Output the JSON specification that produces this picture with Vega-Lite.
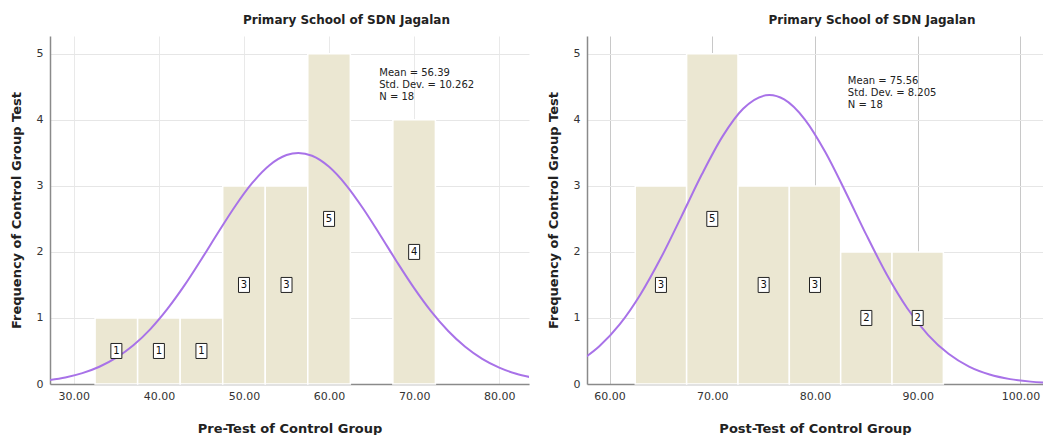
{
  "$schema": "https://vega.github.io/schema/vega-lite/v6.json",
  "padding": {"left": 10, "top": 14, "right": 0, "bottom": 0},
  "spacing": 18,
  "config": {
    "view": {"stroke": null},
    "font": "DejaVu Sans",
    "axis": {
      "ticks": false,
      "domainColor": "#8a8a8a",
      "domainWidth": 1.5,
      "gridColor": "#e6e6e6",
      "labelColor": "#333333",
      "labelFontSize": 11,
      "titleFontSize": 13,
      "titleFontWeight": "bold",
      "titleColor": "#222222",
      "labelFont": "DejaVu Sans",
      "titleFont": "DejaVu Sans"
    },
    "axisX": {"labelPadding": 6, "titlePadding": 21},
    "axisY": {"labelPadding": 7, "titlePadding": 13},
    "title": {"fontSize": 12, "fontWeight": "bold", "color": "#222222", "offset": 9}
  },
  "datasets": {
    "preBars": [
      {"start": 32.5, "end": 37.5, "mid": 35, "count": 1},
      {"start": 37.5, "end": 42.5, "mid": 40, "count": 1},
      {"start": 42.5, "end": 47.5, "mid": 45, "count": 1},
      {"start": 47.5, "end": 52.5, "mid": 50, "count": 3},
      {"start": 52.5, "end": 57.5, "mid": 55, "count": 3},
      {"start": 57.5, "end": 62.5, "mid": 60, "count": 5},
      {"start": 67.5, "end": 72.5, "mid": 70, "count": 4}
    ],
    "postBars": [
      {"start": 62.5, "end": 67.5, "mid": 65, "count": 3},
      {"start": 67.5, "end": 72.5, "mid": 70, "count": 5},
      {"start": 72.5, "end": 77.5, "mid": 75, "count": 3},
      {"start": 77.5, "end": 82.5, "mid": 80, "count": 3},
      {"start": 82.5, "end": 87.5, "mid": 85, "count": 2},
      {"start": 87.5, "end": 92.5, "mid": 90, "count": 2}
    ],
    "preCurve": [
      {"x": 27, "y": 0.058}, {"x": 29, "y": 0.099}, {"x": 31, "y": 0.164}, {"x": 33, "y": 0.261},
      {"x": 35, "y": 0.399}, {"x": 37, "y": 0.587}, {"x": 39, "y": 0.832}, {"x": 41, "y": 1.137},
      {"x": 43, "y": 1.493}, {"x": 45, "y": 1.890}, {"x": 47, "y": 2.302}, {"x": 49, "y": 2.700},
      {"x": 51, "y": 3.048}, {"x": 53, "y": 3.313}, {"x": 55, "y": 3.467}, {"x": 56.39, "y": 3.499},
      {"x": 58, "y": 3.456}, {"x": 60, "y": 3.289}, {"x": 62, "y": 3.013}, {"x": 64, "y": 2.658},
      {"x": 66, "y": 2.257}, {"x": 68, "y": 1.845}, {"x": 70, "y": 1.452}, {"x": 72, "y": 1.100},
      {"x": 74, "y": 0.803}, {"x": 76, "y": 0.564}, {"x": 78, "y": 0.381}, {"x": 80, "y": 0.248},
      {"x": 82, "y": 0.155}, {"x": 84, "y": 0.094}
    ],
    "postCurve": [
      {"x": 57.5, "y": 0.388}, {"x": 59, "y": 0.571}, {"x": 61, "y": 0.906}, {"x": 63, "y": 1.356},
      {"x": 65, "y": 1.911}, {"x": 67, "y": 2.539}, {"x": 69, "y": 3.179}, {"x": 71, "y": 3.750},
      {"x": 73, "y": 4.168}, {"x": 75.56, "y": 4.376}, {"x": 77, "y": 4.309}, {"x": 79, "y": 4.008},
      {"x": 81, "y": 3.513}, {"x": 83, "y": 2.901}, {"x": 85, "y": 2.258}, {"x": 87, "y": 1.655},
      {"x": 89, "y": 1.144}, {"x": 91, "y": 0.745}, {"x": 93, "y": 0.457}, {"x": 95, "y": 0.264},
      {"x": 97, "y": 0.144}, {"x": 99, "y": 0.074}, {"x": 101, "y": 0.036}, {"x": 102.5, "y": 0.020}
    ],
    "preStats": [{"x": 65.9, "y": 4.78, "label": "Mean = 56.39\nStd. Dev. = 10.262\nN = 18"}],
    "postStats": [{"x": 83.2, "y": 4.66, "label": "Mean = 75.56\nStd. Dev. = 8.205\nN = 18"}]
  },
  "hconcat": [
    {
      "width": 479,
      "height": 348,
      "title": {"text": "Primary School of SDN Jagalan", "dx": 57},
      "layer": [
        {
          "data": {"name": "preBars"},
          "mark": {"type": "rect", "color": "#ebe7d2", "stroke": "white", "strokeWidth": 1.5},
          "encoding": {
            "x": {"field": "start", "type": "quantitative",
                  "scale": {"domain": [27.2, 83.5], "nice": false, "zero": false},
                  "axis": {"values": [30, 40, 50, 60, 70, 80], "format": ".2f", "title": "Pre-Test of Control Group", "gridColor": "#e9e9e9"}},
            "x2": {"field": "end"},
            "y": {"field": "count", "type": "quantitative",
                  "scale": {"domain": [0, 5.27], "nice": false},
                  "axis": {"values": [0, 1, 2, 3, 4, 5], "format": "d", "title": "Frequency of Control Group Test"}},
            "y2": {"datum": 0}
          }
        },
        {
          "data": {"name": "preCurve"},
          "mark": {"type": "line", "color": "#a872e8", "strokeWidth": 2, "interpolate": "monotone", "clip": true},
          "encoding": {
            "x": {"field": "x", "type": "quantitative"},
            "y": {"field": "y", "type": "quantitative"}
          }
        },
        {
          "data": {"name": "preBars"},
          "transform": [{"calculate": "datum.count / 2", "as": "half"}],
          "mark": {"type": "point", "shape": "M-0.733,-1H0.733V1H-0.733Z", "size": 225, "filled": true, "fill": "white", "stroke": "#222222", "strokeWidth": 1, "opacity": 1},
          "encoding": {
            "x": {"field": "mid", "type": "quantitative"},
            "y": {"field": "half", "type": "quantitative"}
          }
        },
        {
          "data": {"name": "preBars"},
          "transform": [{"calculate": "datum.count / 2", "as": "half"}],
          "mark": {"type": "text", "fontSize": 10, "color": "#111111", "align": "center", "baseline": "middle"},
          "encoding": {
            "x": {"field": "mid", "type": "quantitative"},
            "y": {"field": "half", "type": "quantitative"},
            "text": {"field": "count"}
          }
        },
        {
          "data": {"name": "preStats"},
          "mark": {"type": "text", "fontSize": 10, "color": "#222222", "align": "left", "baseline": "top", "lineBreak": "\n", "lineHeight": 12},
          "encoding": {
            "x": {"field": "x", "type": "quantitative"},
            "y": {"field": "y", "type": "quantitative"},
            "text": {"field": "label"}
          }
        }
      ]
    },
    {
      "width": 456,
      "height": 348,
      "title": {"text": "Primary School of SDN Jagalan", "dx": 57},
      "layer": [
        {
          "data": {"name": "postBars"},
          "mark": {"type": "rect", "color": "#ebe7d2", "stroke": "white", "strokeWidth": 1.5},
          "encoding": {
            "x": {"field": "start", "type": "quantitative",
                  "scale": {"domain": [57.8, 102.2], "nice": false, "zero": false},
                  "axis": {"values": [60, 70, 80, 90, 100], "format": ".2f", "title": "Post-Test of Control Group", "gridColor": "#c8c8c8"}},
            "x2": {"field": "end"},
            "y": {"field": "count", "type": "quantitative",
                  "scale": {"domain": [0, 5.27], "nice": false},
                  "axis": {"values": [0, 1, 2, 3, 4, 5], "format": "d", "title": "Frequency of Control Group Test"}},
            "y2": {"datum": 0}
          }
        },
        {
          "data": {"name": "postCurve"},
          "mark": {"type": "line", "color": "#a872e8", "strokeWidth": 2, "interpolate": "monotone", "clip": true},
          "encoding": {
            "x": {"field": "x", "type": "quantitative"},
            "y": {"field": "y", "type": "quantitative"}
          }
        },
        {
          "data": {"name": "postBars"},
          "transform": [{"calculate": "datum.count / 2", "as": "half"}],
          "mark": {"type": "point", "shape": "M-0.733,-1H0.733V1H-0.733Z", "size": 225, "filled": true, "fill": "white", "stroke": "#222222", "strokeWidth": 1, "opacity": 1},
          "encoding": {
            "x": {"field": "mid", "type": "quantitative"},
            "y": {"field": "half", "type": "quantitative"}
          }
        },
        {
          "data": {"name": "postBars"},
          "transform": [{"calculate": "datum.count / 2", "as": "half"}],
          "mark": {"type": "text", "fontSize": 10, "color": "#111111", "align": "center", "baseline": "middle"},
          "encoding": {
            "x": {"field": "mid", "type": "quantitative"},
            "y": {"field": "half", "type": "quantitative"},
            "text": {"field": "count"}
          }
        },
        {
          "data": {"name": "postStats"},
          "mark": {"type": "text", "fontSize": 10, "color": "#222222", "align": "left", "baseline": "top", "lineBreak": "\n", "lineHeight": 12},
          "encoding": {
            "x": {"field": "x", "type": "quantitative"},
            "y": {"field": "y", "type": "quantitative"},
            "text": {"field": "label"}
          }
        }
      ]
    }
  ]
}
